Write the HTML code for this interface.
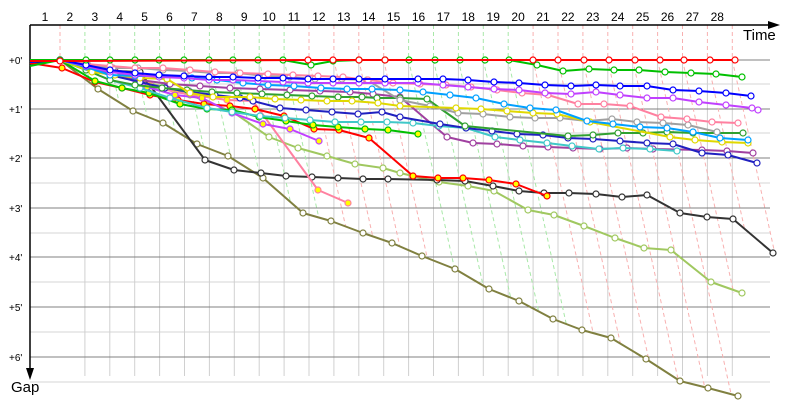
<!DOCTYPE html>
<html><head><meta charset="utf-8"><style>
html,body{margin:0;padding:0;background:#fff;}
svg{display:block;font-family:"Liberation Sans","DejaVu Sans",sans-serif;}
</style></head><body>
<svg id="c" width="800" height="400" viewBox="0 0 800 400" xmlns="http://www.w3.org/2000/svg"></svg>
<script>
var S=document.getElementById('c'),h='';
function gx(k){return 60+24.9*(k-1);}
var olive=[[30,62],[60,60],[98,89],[133,111],[163,123],[197,144],[228,156],[263,178],[303,213],[331,221],[363,233],[392,243],[422,256],[455,269],[489,289],[519,301],[553,319],[582,330],[611,338],[646,359],[680,381],[708,388],[738,396]];
function oy(x){for(var i=0;i<olive.length-1;i++){var a=olive[i],b=olive[i+1];if(x>=a[0]&&x<=b[0])return a[1]+(b[1]-a[1])*(x-a[0])/(b[0]-a[0]);}return null;}
// minor horizontal
[84,133,183,233,282,332,382].forEach(function(y){h+='<line x1="30" y1="'+y+'" x2="770" y2="'+y+'" stroke="#d4d4d4" stroke-width="1"/>';});
for(var k=2;k<=28;k++){h+='<line x1="'+gx(k)+'" y1="60" x2="'+gx(k)+'" y2="376" stroke="#d0d0d0" stroke-width="1"/>';}
[60,109,158,208,257,307,357].forEach(function(y,i){h+='<line x1="30" y1="'+y+'" x2="770" y2="'+y+'" stroke="#808080" stroke-width="1"/>';
 h+='<text x="9" y="'+(y+4)+'" font-size="10">+'+i+'\'</text>';});
// dashed reference lines
var over={26:293,27:230,28:253};
for(var k=1;k<=28;k++){var x=gx(k);var g=(k>=2&&k<=10)||(k>=15&&k<=19);var col=g?'#a8e8a8':'#f8b0b0';
 var ye=null;
 if(over[k])ye=over[k];else{for(var y=61;y<400;y++){var xx=x+0.22*(y-60);var o=oy(xx);if(o===null){ye=y;break;}if(y>=o){ye=y;break;}}}
 if(k==1)ye=60;
 h+='<polyline points="'+x+',25 '+x+',60 '+(x+0.22*(ye-60))+','+ye+'" fill="none" stroke="'+col+'" stroke-width="1" stroke-dasharray="4,3"/>';}
h+='<line x1="30" y1="25" x2="772" y2="25" stroke="#000" stroke-width="1.5"/><polygon points="780,25 768,21 768,29" fill="#000"/>';
h+='<line x1="30" y1="25" x2="30" y2="372" stroke="#000" stroke-width="1.5"/><polygon points="30,380 26,368 34,368" fill="#000"/>';
h+='<text x="743" y="40" font-size="15">Time</text><text x="11" y="392" font-size="15">Gap</text>';
for(var k=1;k<=28;k++){h+='<text x="'+(gx(k)-15)+'" y="21" font-size="12" text-anchor="middle">'+k+'</text>';}
var series=[
['#808040','#fff',olive],
['#a0c860','#fff',[[60,60],[86,63],[140,80],[190,95],[233,112],[269,137],[298,148],[327,156],[355,164],[383,168],[400,173],[439,182],[468,186],[494,191],[528,210],[554,215],[584,226],[615,238],[644,248],[671,250],[711,282],[742,293]]],
['#333333','#fff',[[30,64],[60,60],[86,66],[115,71],[140,72],[205,160],[234,170],[261,173],[286,176],[312,177],[338,178],[363,179],[388,179],[437,180],[465,181],[493,186],[519,191],[544,193],[569,193],[596,194],[622,197],[647,195],[680,213],[707,217],[733,219],[773,253]]],
['#ff80a0','#ff0',[[60,60],[86,66],[115,72],[150,85],[175,92],[200,96],[227,100],[253,101],[318,190],[348,203]]],
['#ff0000','#ff0',[[30,63],[62,68],[95,82],[122,88],[150,95],[178,100],[204,104],[230,106],[255,109],[284,116],[314,129],[339,130],[369,138],[413,176],[438,178],[463,178],[489,180],[516,184],[547,196]]],
['#c040ff','#ff0',[[60,60],[90,70],[117,74],[147,87],[175,95],[202,98],[232,113],[263,124],[290,129],[319,141]]],
['#00c000','#ff0',[[30,66],[60,60],[95,81],[122,88],[149,93],[180,104],[207,109],[232,110],[259,117],[286,121],[313,125],[338,127],[365,129],[388,130],[418,134]]],
['#a040a0','#fff',[[60,60],[86,66],[110,73],[140,80],[170,84],[200,86],[230,88],[260,89],[290,90],[320,91],[350,92],[373,94],[400,97],[447,137],[473,143],[497,144],[523,146],[548,147],[573,148],[600,149],[627,148],[653,149],[702,150],[727,151],[753,153]]],
['#40c8c8','#fff',[[60,60],[86,70],[110,80],[140,88],[170,98],[207,108],[232,112],[260,116],[285,118],[310,120],[335,122],[361,122],[387,122],[413,123],[439,126],[466,128],[495,137],[520,140],[547,143],[572,146],[599,149],[623,148],[650,149],[677,151]]],
['#2020c0','#fff',[[60,60],[86,68],[110,75],[140,82],[165,88],[190,92],[215,95],[240,98],[253,101],[280,108],[306,110],[332,112],[358,114],[382,112],[400,117],[440,124],[466,128],[492,131],[517,134],[543,135],[568,138],[593,139],[620,141],[647,143],[673,144],[702,153],[728,155],[757,163]]],
['#30a030','#fff',[[60,60],[86,70],[110,80],[135,85],[162,88],[187,90],[212,92],[237,93],[262,94],[287,95],[312,96],[338,97],[362,97],[377,98],[400,98],[427,99],[465,126],[568,136],[593,135],[618,133],[643,133],[667,132],[693,133],[743,133]]],
['#a0a0a0','#fff',[[60,60],[88,65],[113,68],[138,68],[163,70],[188,71],[213,73],[238,73],[265,76],[290,77],[315,79],[342,79],[367,80],[400,100],[430,106],[458,113],[483,114],[510,117],[535,118],[560,118],[587,121],[612,119],[637,122],[663,123],[688,125],[717,132]]],
['#e0d800','#fff',[[60,60],[92,72],[115,75],[140,78],[167,79],[190,93],[213,97],[250,97],[275,99],[301,100],[327,101],[352,101],[378,103],[400,106],[456,108],[481,109],[507,111],[533,113],[557,114],[590,122],[670,137],[695,140],[722,142],[748,143]]],
['#00a0ff','#fff',[[30,62],[60,60],[86,67],[110,75],[135,76],[160,76],[192,78],[217,80],[243,83],[268,85],[294,86],[321,88],[347,89],[372,89],[400,90],[423,92],[450,95],[476,98],[504,104],[530,108],[556,110],[587,121],[613,124],[640,127],[667,128],[693,132],[720,138],[748,140]]],
['#ff80a0','#fff',[[60,60],[86,64],[110,66],[135,68],[163,68],[190,70],[215,72],[240,73],[268,74],[293,75],[318,76],[343,77],[368,80],[393,83],[420,84],[446,85],[471,87],[497,90],[522,93],[548,95],[578,104],[604,104],[630,106],[661,117],[687,119],[712,122],[738,123]]],
['#c040ff','#fff',[[60,60],[86,66],[110,72],[135,75],[159,77],[184,78],[209,80],[233,80],[258,81],[283,82],[308,83],[333,83],[359,83],[385,83],[418,83],[443,85],[468,87],[494,89],[519,90],[545,93],[571,94],[596,92],[620,95],[647,98],[673,98],[699,102],[726,105],[752,108],[758,110]]],
['#0000ff','#fff',[[30,62],[60,60],[86,65],[110,70],[135,73],[159,75],[184,76],[209,77],[233,77],[258,78],[283,78],[308,79],[333,79],[359,79],[385,79],[418,79],[443,79],[468,80],[494,82],[519,83],[545,85],[571,86],[596,85],[620,86],[647,86],[673,90],[699,91],[726,93],[751,96]]],
['#00c000','#fff',[[30,60],[60,60],[86,60],[110,60],[135,60],[159,60],[184,60],[209,60],[233,60],[258,60],[283,60],[311,65],[333,61],[359,60],[385,60],[409,60],[435,60],[460,60],[485,60],[509,60],[537,65],[563,71],[589,69],[614,70],[639,70],[665,72],[691,73],[716,74],[742,77]]],
['#ff0000','#fff',[[30,61],[60,61],[308,60],[333,60],[359,60],[385,60],[533,60],[558,60],[584,60],[609,60],[635,60],[660,60],[684,60],[710,60],[735,60]]]
];
series.forEach(function(s){var p=s[2].map(function(q){return q.join(',');}).join(' ');
 h+='<polyline points="'+p+'" fill="none" stroke="'+s[0]+'" stroke-width="2" stroke-linejoin="round"/>';
 s[2].forEach(function(q){if(q[0]<=31)return;h+='<circle cx="'+q[0]+'" cy="'+q[1]+'" r="3" fill="'+s[1]+'" stroke="'+s[0]+'" stroke-width="1.2"/>';});});
S.innerHTML=h;
</script>
</body></html>
